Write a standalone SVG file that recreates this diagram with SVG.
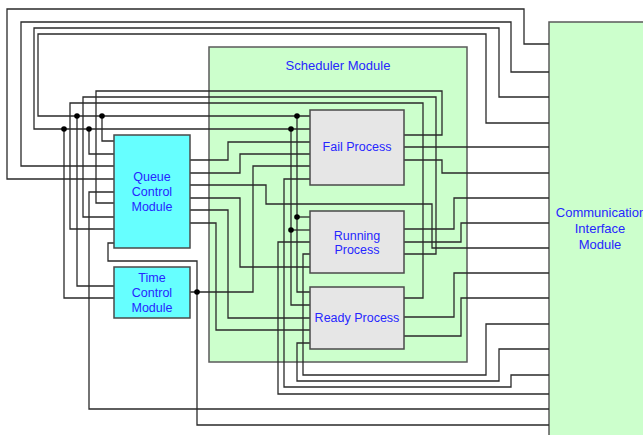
<svg xmlns="http://www.w3.org/2000/svg" width="643" height="435" viewBox="0 0 643 435">
  <style>
    .module { fill: #ccffcc; stroke: #5a5a5a; stroke-width: 1.5; }
    .ctrl { fill: #66ffff; stroke: #4a4a4a; stroke-width: 1.5; }
    .proc { fill: #e6e6e6; stroke: #4a4a4a; stroke-width: 1.5; }
    .lbl { font-family: "Liberation Sans", Arial, sans-serif; font-size: 12.5px; fill: #2626ff; text-anchor: middle; }
    .big { font-size: 13px; }
    .wire { fill: none; stroke: #2a2a2a; stroke-width: 1.3; }
    .dot { fill: #000; }
  </style>

  <!-- Communication Interface Module (extends past the right edge) -->
  <g id="comm">
    <rect class="module" x="549" y="22" width="120" height="430"/>
    <text class="lbl big" x="601" y="217">Communication</text>
    <text class="lbl big" x="600" y="233">Interface</text>
    <text class="lbl big" x="600" y="249">Module</text>
  </g>

  <!-- Scheduler Module container -->
  <g id="scheduler">
    <rect class="module" x="209" y="47" width="258" height="315"/>
    <text class="lbl big" x="338" y="70">Scheduler Module</text>
  </g>

  <!-- Connectors -->
  <g id="connectors">
    <polyline class="wire" points="114,179 7,179 7,9 524,9 524,44 549,44"/>
    <polyline class="wire" points="114,166 21,166 21,22 511,22 511,72 549,72"/>

    <polyline class="wire" points="549,97 499,97 499,28 34,28 34,129 310,129"/>
    <polyline class="wire" points="64,129 64,298 114,298"/>
    <polyline class="wire" points="89,129 89,154 114,154"/>
    <polyline class="wire" points="291,129 291,305 310,305"/>
    <polyline class="wire" points="291,230 310,230"/>

    <polyline class="wire" points="549,123 486,123 486,34 38,34 38,116 310,116"/>
    <polyline class="wire" points="77,116 77,286 114,286"/>
    <polyline class="wire" points="102,116 102,141 114,141"/>
    <polyline class="wire" points="297,116 297,292 310,292"/>
    <polyline class="wire" points="297,217 310,217"/>

    <polyline class="wire" points="404,147 549,147"/>
    <polyline class="wire" points="404,160 442,160 442,173 549,173"/>
    <polyline class="wire" points="404,135 442,135 442,91 96,91 96,203 114,203"/>
    <polyline class="wire" points="404,254 436,254 436,97 83,97 83,217 114,217"/>
    <polyline class="wire" points="404,298 423,298 423,103 70,103 70,229 114,229"/>
    <polyline class="wire" points="404,229 454,229 454,198 549,198"/>
    <polyline class="wire" points="404,242 461,242 461,223 549,223"/>
    <polyline class="wire" points="190,185 266,185 266,204 432,204 432,248 549,248"/>
    <polyline class="wire" points="404,317 454,317 454,273 549,273"/>
    <polyline class="wire" points="404,336 461,336 461,298 549,298"/>

    <polyline class="wire" points="310,254 303,254 303,375 486,375 486,324 549,324"/>
    <polyline class="wire" points="310,343 297,343 297,381 499,381 499,349 549,349"/>
    <polyline class="wire" points="310,179 284,179 284,387 511,387 511,375 549,375"/>
    <polyline class="wire" points="310,242 278,242 278,394 549,394"/>

    <polyline class="wire" points="114,192 89,192 89,409 549,409"/>
    <polyline class="wire" points="114,243 108,243 108,261 197,261 197,425 549,425"/>
    <polyline class="wire" points="190,292 253,292 253,166 310,166"/>

    <polyline class="wire" points="190,160 228,160 228,142 310,142"/>
    <polyline class="wire" points="190,173 240,173 240,154 310,154"/>
    <polyline class="wire" points="190,198 240,198 240,267 310,267"/>
    <polyline class="wire" points="190,210 228,210 228,318 310,318"/>
    <polyline class="wire" points="190,223 216,223 216,330 310,330"/>

    <circle class="dot" cx="64" cy="129" r="2.8"/>
    <circle class="dot" cx="89" cy="129" r="2.8"/>
    <circle class="dot" cx="77" cy="116" r="2.8"/>
    <circle class="dot" cx="102" cy="116" r="2.8"/>
    <circle class="dot" cx="297" cy="116" r="2.8"/>
    <circle class="dot" cx="291" cy="129" r="2.8"/>
    <circle class="dot" cx="297" cy="217" r="2.8"/>
    <circle class="dot" cx="291" cy="230" r="2.8"/>
    <circle class="dot" cx="197" cy="292" r="2.8"/>
  </g>

  <g id="queue">
    <rect class="ctrl" x="114" y="135" width="76" height="113"/>
    <text class="lbl" x="152" y="181">Queue</text>
    <text class="lbl" x="152" y="196">Control</text>
    <text class="lbl" x="152" y="211">Module</text>
  </g>

  <g id="time">
    <rect class="ctrl" x="114" y="267" width="76" height="51"/>
    <text class="lbl" x="152" y="282">Time</text>
    <text class="lbl" x="152" y="297">Control</text>
    <text class="lbl" x="152" y="312">Module</text>
  </g>

  <g id="fail">
    <rect class="proc" x="310" y="110" width="94" height="75"/>
    <text class="lbl" x="357" y="151">Fail Process</text>
  </g>

  <g id="running">
    <rect class="proc" x="310" y="211" width="94" height="62"/>
    <text class="lbl" x="357" y="240">Running</text>
    <text class="lbl" x="357" y="254">Process</text>
  </g>

  <g id="ready">
    <rect class="proc" x="310" y="287" width="94" height="62"/>
    <text class="lbl" x="357" y="322">Ready Process</text>
  </g>
</svg>
